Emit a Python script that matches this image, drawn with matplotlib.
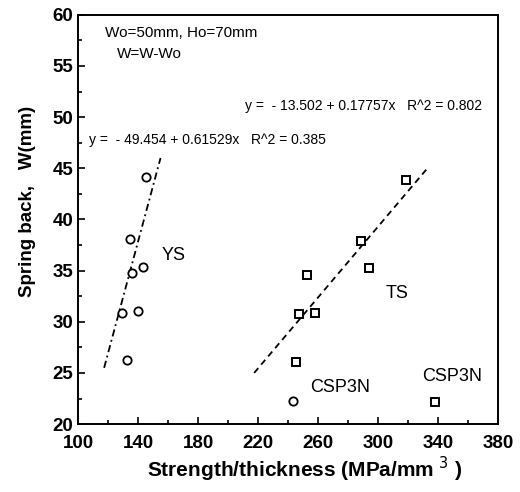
import numpy as np
import matplotlib
matplotlib.use('Agg')
import matplotlib.pyplot as plt
from matplotlib.ticker import MultipleLocator

plt.rcParams['font.family'] = ['Liberation Sans', 'DejaVu Sans']

# YS data (open circles)
ys_x = [145.6, 134.9, 136.2, 143.0, 129.5, 140.3, 132.9]
ys_y = [44.1, 38.1, 34.8, 35.4, 30.9, 31.1, 26.3]
# TS data (open squares)
ts_x = [318.8, 288.6, 294.0, 252.3, 247.0, 257.7, 245.6, 338.0]
ts_y = [43.9, 37.9, 35.3, 34.6, 30.8, 30.9, 26.1, 22.2]
# CSP3N YS point
csp_x = [243.0]
csp_y = [22.3]

# fitted lines, as drawn (end points)
ys_fit_x = [117.4, 155.0]
ys_fit_y = [25.5, 46.0]
ts_fit_x = [217.4, 334.0]
ts_fit_y = [25.0, 45.2]

x_ticks = [100, 140, 180, 220, 260, 300, 340, 380]

fig = plt.figure(figsize=(5.2, 4.92), dpi=100)
ax = fig.add_axes([0.15, 0.138, 0.808, 0.832])

ax.plot(ys_fit_x, ys_fit_y, color='black', lw=1.3, linestyle=(0, (4, 2, 1, 2)))
ax.plot(ts_fit_x, ts_fit_y, color='black', lw=1.3, linestyle=(0, (3.5, 2.5)))
ax.plot(ys_x, ys_y, 'o', mfc='white', mec='black', mew=1.3, ms=6)
ax.plot(csp_x, csp_y, 'o', mfc='white', mec='black', mew=1.3, ms=6)
ax.plot(ts_x, ts_y, 's', mfc='white', mec='black', mew=1.4, ms=6)

ax.set_xlim(100, 380)
ax.set_ylim(20, 60)
ax.set_xticks(x_ticks)
ax.xaxis.set_minor_locator(MultipleLocator(20))
ax.yaxis.set_major_locator(MultipleLocator(5))
ax.yaxis.set_minor_locator(MultipleLocator(2.5))
ax.tick_params(which='both', direction='in', top=False, right=False, width=1.2)
ax.tick_params(which='major', length=5, labelsize=13.5)
ax.tick_params(which='minor', length=3)
ax.tick_params(axis='x', which='major', pad=8)
for lab in ax.get_xticklabels() + ax.get_yticklabels():
    lab.set_fontweight('bold')
for sp in ax.spines.values():
    sp.set_linewidth(1.4)

ax.set_xlabel('Strength/thickness (MPa/mm$^{\\ 3}$ )', fontsize=15, fontweight='bold')
ax.xaxis.set_label_coords(0.54, -0.075)
ax.set_ylabel('Spring back,   W(mm)', fontsize=13.5, fontweight='bold')
ax.yaxis.set_label_coords(-0.1, 0.545)

ax.text(118, 58.2, 'Wo=50mm, Ho=70mm', fontsize=11, va='center')
ax.text(126, 56.2, 'W=W-Wo', fontsize=11, va='center')
ax.text(211, 51.1, 'y =  - 13.502 + 0.17757x   R^2 = 0.802', fontsize=10, va='center')
ax.text(107, 47.8, 'y =  - 49.454 + 0.61529x   R^2 = 0.385', fontsize=10, va='center')
ax.text(156, 36.5, 'YS', fontsize=13, va='center')
ax.text(305, 32.8, 'TS', fontsize=13, va='center')
ax.text(255, 23.6, 'CSP3N', fontsize=13, va='center')
ax.text(329, 24.7, 'CSP3N', fontsize=13, va='center')

fig.savefig('out.png', dpi=100)
